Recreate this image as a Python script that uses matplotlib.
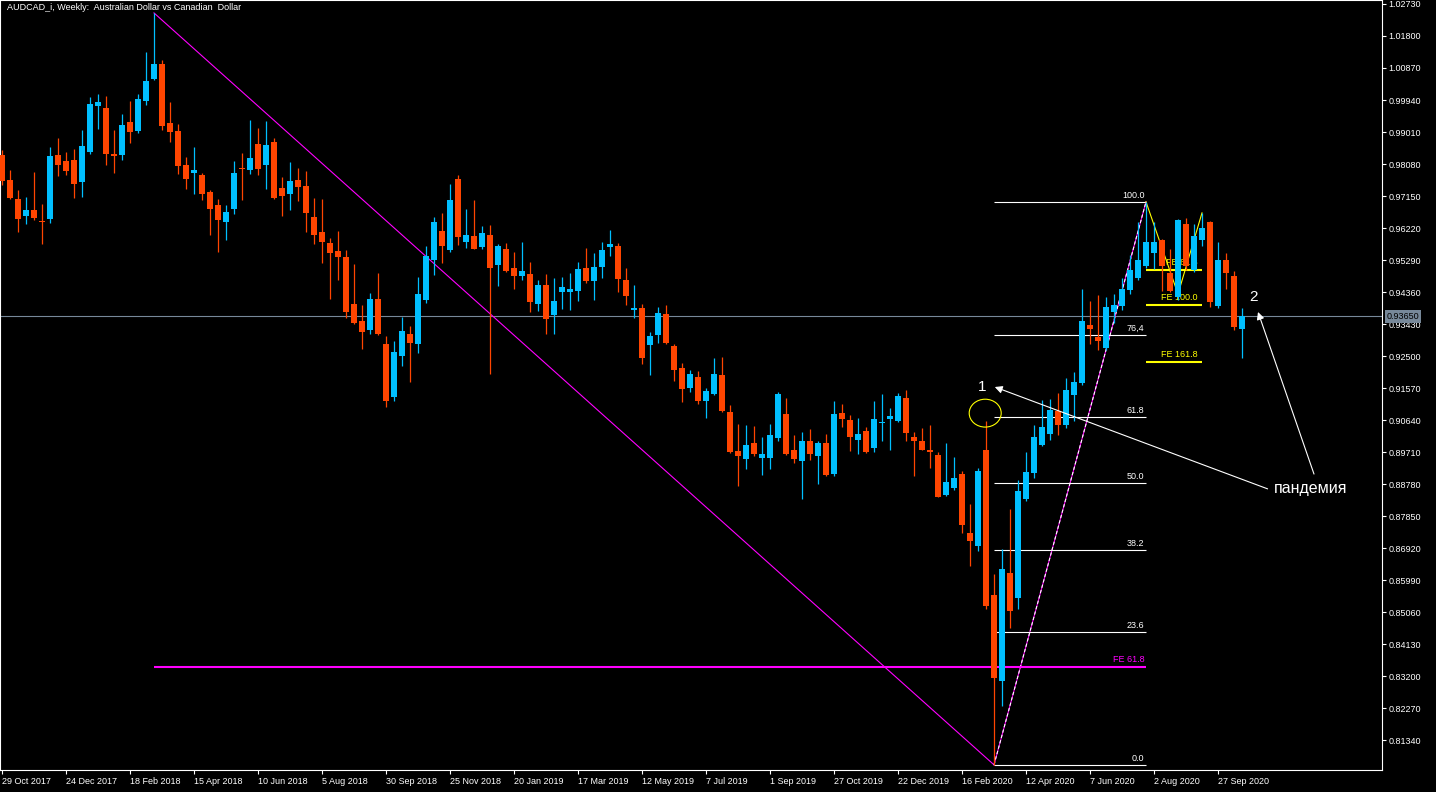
import matplotlib.pyplot as plt
import numpy as np
from matplotlib.patches import Ellipse
from matplotlib.transforms import blended_transform_factory

# AUDCAD_i weekly bars, bar 0 = week of 29 Oct 2017
opens = [
    0.9834, 0.9762, 0.9706, 0.9657, 0.9674, 0.9643, 0.9648, 0.9834, 0.9817, 0.9820,
    0.9756, 0.9843, 0.9977, 0.9971, 0.9836, 0.9834, 0.9930, 0.9904, 0.9991, 1.0055,
    1.0099, 0.9927, 0.9904, 0.9805, 0.9782, 0.9776, 0.9727, 0.9689, 0.9639, 0.9677,
    0.9796, 0.9791, 0.9866, 0.9805, 0.9872, 0.9738, 0.9721, 0.9762, 0.9744, 0.9654,
    0.9610, 0.9578, 0.9555, 0.9538, 0.9401, 0.9352, 0.9326, 0.9416, 0.9285, 0.9131,
    0.9250, 0.9314, 0.9285, 0.9413, 0.9529, 0.9613, 0.9558, 0.9764, 0.9581, 0.9599,
    0.9567, 0.9602, 0.9515, 0.9561, 0.9506, 0.9483, 0.9488, 0.9401, 0.9456, 0.9369,
    0.9436, 0.9436, 0.9439, 0.9506, 0.9468, 0.9509, 0.9567, 0.9570, 0.9471, 0.9384,
    0.9390, 0.9282, 0.9311, 0.9372, 0.9279, 0.9215, 0.9157, 0.9189, 0.9119, 0.9140,
    0.9195, 0.9087, 0.8974, 0.8951, 0.8997, 0.8954, 0.8954, 0.9012, 0.9082, 0.8977,
    0.8945, 0.9003, 0.8960, 0.8997, 0.8907, 0.9084, 0.9064, 0.9006, 0.9032, 0.8983,
    0.9054, 0.9067, 0.9061, 0.9128, 0.9015, 0.9003, 0.8977, 0.8962, 0.8846, 0.8867,
    0.8907, 0.8736, 0.8698, 0.8977, 0.8556, 0.8306, 0.8620, 0.8547, 0.8835, 0.8910,
    0.8991, 0.9023, 0.9090, 0.9050, 0.9137, 0.9172, 0.9340, 0.9305, 0.9273, 0.9378,
    0.9395, 0.9442, 0.9477, 0.9512, 0.9549, 0.9587, 0.9491, 0.9422, 0.9634, 0.9500,
    0.9587, 0.9639, 0.9395, 0.9529, 0.9483, 0.9329,
]
highs = [
    0.9849, 0.9791, 0.9733, 0.9712, 0.9785, 0.9692, 0.9857, 0.9884, 0.9843, 0.9852,
    0.9907, 1.0003, 1.0011, 1.0006, 0.9907, 0.9953, 0.9991, 1.0011, 1.0134, 1.0247,
    1.0110, 0.9988, 0.9924, 0.9828, 0.9857, 0.9782, 0.9733, 0.9706, 0.9689, 0.9817,
    0.9840, 0.9936, 0.9913, 0.9933, 0.9884, 0.9770, 0.9814, 0.9796, 0.9788, 0.9709,
    0.9706, 0.9593, 0.9613, 0.9558, 0.9517, 0.9398, 0.9433, 0.9491, 0.9308, 0.9294,
    0.9363, 0.9337, 0.9480, 0.9570, 0.9654, 0.9666, 0.9750, 0.9776, 0.9677, 0.9703,
    0.9628, 0.9631, 0.9576, 0.9578, 0.9552, 0.9581, 0.9523, 0.9471, 0.9488, 0.9477,
    0.9480, 0.9491, 0.9523, 0.9564, 0.9549, 0.9581, 0.9616, 0.9578, 0.9506, 0.9456,
    0.9401, 0.9320, 0.9393, 0.9398, 0.9285, 0.9230, 0.9209, 0.9207, 0.9157, 0.9244,
    0.9247, 0.9108, 0.9053, 0.9050, 0.9047, 0.9015, 0.9053, 0.9145, 0.9128, 0.9021,
    0.9029, 0.9038, 0.9003, 0.9023, 0.9119, 0.9111, 0.9079, 0.9070, 0.9044, 0.9119,
    0.9140, 0.9099, 0.9143, 0.9151, 0.9029, 0.9041, 0.9050, 0.8971, 0.8997, 0.8957,
    0.8916, 0.8820, 0.8925, 0.9061, 0.8617, 0.8689, 0.8805, 0.8890, 0.8971, 0.9050,
    0.9122, 0.9125, 0.9143, 0.9186, 0.9204, 0.9445, 0.9410, 0.9427, 0.9422, 0.9430,
    0.9477, 0.9544, 0.9639, 0.9698, 0.9639, 0.9590, 0.9561, 0.9648, 0.9651, 0.9634,
    0.9666, 0.9642, 0.9581, 0.9549, 0.9497, 0.9390,
]
lows = [
    0.9747, 0.9706, 0.9610, 0.9634, 0.9645, 0.9576, 0.9637, 0.9773, 0.9776, 0.9709,
    0.9712, 0.9837, 0.9910, 0.9805, 0.9782, 0.9820, 0.9869, 0.9898, 0.9980, 1.0052,
    0.9907, 0.9872, 0.9779, 0.9735, 0.9721, 0.9703, 0.9602, 0.9552, 0.9587, 0.9663,
    0.9703, 0.9779, 0.9776, 0.9735, 0.9706, 0.9657, 0.9674, 0.9700, 0.9610, 0.9576,
    0.9520, 0.9416, 0.9471, 0.9361, 0.9343, 0.9270, 0.9314, 0.9311, 0.9102, 0.9119,
    0.9221, 0.9175, 0.9259, 0.9404, 0.9485, 0.9520, 0.9552, 0.9573, 0.9564, 0.9560,
    0.9561, 0.9198, 0.9454, 0.9494, 0.9445, 0.9471, 0.9378, 0.9381, 0.9314, 0.9314,
    0.9387, 0.9384, 0.9410, 0.9462, 0.9413, 0.9477, 0.9541, 0.9436, 0.9398, 0.9361,
    0.9227, 0.9195, 0.9288, 0.9285, 0.9177, 0.9116, 0.9145, 0.9111, 0.9070, 0.9137,
    0.9087, 0.8968, 0.8872, 0.8922, 0.8960, 0.8904, 0.8922, 0.9003, 0.8962, 0.8939,
    0.8835, 0.8948, 0.8878, 0.8901, 0.8901, 0.9044, 0.8974, 0.8965, 0.8968, 0.8971,
    0.9003, 0.8977, 0.9058, 0.9003, 0.8901, 0.8976, 0.8925, 0.8839, 0.8843, 0.8861,
    0.8736, 0.8640, 0.8683, 0.8515, 0.8062, 0.8233, 0.8460, 0.8515, 0.8829, 0.8896,
    0.8989, 0.9006, 0.9021, 0.9041, 0.9061, 0.9166, 0.9285, 0.9268, 0.9268, 0.9346,
    0.9384, 0.9430, 0.9471, 0.9506, 0.9503, 0.9439, 0.9437, 0.9413, 0.9500, 0.9494,
    0.9570, 0.9393, 0.9390, 0.9445, 0.9326, 0.9244,
]
closes = [
    0.9759, 0.9709, 0.9648, 0.9674, 0.9651, 0.9640, 0.9831, 0.9805, 0.9788, 0.9750,
    0.9860, 0.9982, 0.9988, 0.9837, 0.9831, 0.9921, 0.9901, 0.9997, 1.0049, 1.0099,
    0.9918, 0.9901, 0.9802, 0.9764, 0.9791, 0.9721, 0.9677, 0.9645, 0.9669, 0.9782,
    0.9794, 0.9826, 0.9794, 0.9863, 0.9709, 0.9715, 0.9759, 0.9741, 0.9666, 0.9602,
    0.9581, 0.9549, 0.9538, 0.9378, 0.9346, 0.9320, 0.9416, 0.9314, 0.9119, 0.9262,
    0.9323, 0.9288, 0.9430, 0.9541, 0.9639, 0.9570, 0.9703, 0.9596, 0.9602, 0.9561,
    0.9608, 0.9506, 0.9570, 0.9497, 0.9483, 0.9497, 0.9407, 0.9456, 0.9358, 0.9410,
    0.9451, 0.9445, 0.9503, 0.9468, 0.9509, 0.9558, 0.9576, 0.9474, 0.9424, 0.9390,
    0.9244, 0.9308, 0.9375, 0.9288, 0.9209, 0.9154, 0.9198, 0.9119, 0.9148, 0.9198,
    0.9090, 0.8971, 0.8960, 0.8991, 0.8965, 0.8965, 0.9021, 0.9140, 0.8965, 0.8951,
    0.9003, 0.8965, 0.8997, 0.8904, 0.9082, 0.9067, 0.9015, 0.9023, 0.8971, 0.9067,
    0.9057, 0.9076, 0.9134, 0.9026, 0.9003, 0.8977, 0.8971, 0.8840, 0.8884, 0.8896,
    0.8759, 0.8712, 0.8916, 0.8524, 0.8314, 0.8631, 0.8509, 0.8858, 0.8913, 0.9015,
    0.9044, 0.9093, 0.9050, 0.9151, 0.9175, 0.9352, 0.9329, 0.9294, 0.9393, 0.9398,
    0.9445, 0.9500, 0.9529, 0.9581, 0.9581, 0.9512, 0.9439, 0.9645, 0.9512, 0.9599,
    0.9622, 0.9407, 0.9529, 0.9491, 0.9334, 0.9365,
]

date_labels = ['29 Oct 2017', '24 Dec 2017', '18 Feb 2018', '15 Apr 2018', '10 Jun 2018',
               '5 Aug 2018', '30 Sep 2018', '25 Nov 2018', '20 Jan 2019', '17 Mar 2019',
               '12 May 2019', '7 Jul 2019', '1 Sep 2019', '27 Oct 2019', '22 Dec 2019',
               '16 Feb 2020', '12 Apr 2020', '7 Jun 2020', '2 Aug 2020', '27 Sep 2020']
price_ticks = [1.0273, 1.0180, 1.0087, 0.9994, 0.9901, 0.9808, 0.9715, 0.9622,
               0.9529, 0.9436, 0.9343, 0.9250, 0.9157, 0.9064, 0.8971, 0.8878,
               0.8785, 0.8692, 0.8599, 0.8506, 0.8413, 0.8320, 0.8227, 0.8134]

fib_levels = [0.0, 23.6, 38.2, 50.0, 61.8, 76.4, 100.0]
fib_texts = ['0.0', '23.6', '38.2', '50.0', '61.8', '76,4', '100.0']
fe_levels = [61.8, 100.0, 161.8]
fe_texts = ['FE 61.8', 'FE 100.0', 'FE 161.8']
# yellow expansion points (bar, price)
fe_a = (143, 0.9698)
fe_b = (147, 0.9430)
fe_c = (150, 0.9666)

BULL = '#00bfff'
BEAR = '#ff4500'
FONT = 'Liberation Sans'

plt.rcParams['font.family'] = [FONT, 'DejaVu Sans']

fig = plt.figure(figsize=(14.36, 7.92), dpi=100, facecolor='black')
ax = fig.add_axes([0, 22 / 792, 1382 / 1436, 770 / 792])
ax.set_facecolor('black')

o = np.array(opens)
h = np.array(highs)
l = np.array(lows)
c = np.array(closes)
x = np.arange(len(o))
cols = np.where(c >= o, BULL, BEAR)

ax.vlines(x, l, h, colors=cols, linewidth=0.9, zorder=5)
body_lo = np.minimum(o, c)
body_h = np.maximum(np.abs(c - o), 0.0003)
ax.bar(x, body_h, bottom=body_lo, width=0.66, color=cols, linewidth=0, zorder=6)

# current price line
ax.axhline(c[-1], color='#778899', lw=0.8, zorder=1)

# big trendline from the 2018 top to the 2020 low
ax.plot([19, 124], [h[19], l[124]], color='#ff00ff', lw=0.8, zorder=2)

# fibo retracement low -> high
fib_lo, fib_hi = l[124], h[143]
ax.plot([124, 143], [fib_lo, fib_hi], color='#ff00ff', lw=0.8, zorder=2)
ax.plot([124, 143], [fib_lo, fib_hi], color='white', lw=0.8, ls=(0, (3, 2)), zorder=2)
for lv, txt in zip(fib_levels, fib_texts):
    p = fib_lo + (fib_hi - fib_lo) * lv / 100
    ax.hlines(p, 124, 143, color='white', lw=0.8, zorder=2)
    ax.text(142.8, p + 0.0006, txt, color='white', fontsize=6.5,
            ha='right', va='bottom', zorder=2)

# magenta expansion level
fe_mag = h[143] - (h[19] - l[124]) * 0.618
ax.hlines(fe_mag, 19, 143, color='#ff00ff', lw=1.5, zorder=2)
ax.text(142.8, fe_mag + 0.0007, 'FE 61.8', color='#ff00ff', fontsize=6.5,
        ha='right', va='bottom', zorder=2)

# yellow expansion
ax.plot([fe_a[0], fe_b[0], fe_c[0]], [fe_a[1], fe_b[1], fe_c[1]],
        color='yellow', lw=0.8, zorder=2)
for lv, txt in zip(fe_levels, fe_texts):
    p = fe_c[1] - (fe_a[1] - fe_b[1]) * lv / 100
    ax.hlines(p, 143, 150, color='yellow', lw=1.5, zorder=2)
    ax.text(149.5, p + 0.0008, txt, color='yellow', fontsize=6.5,
            ha='right', va='bottom', zorder=2)

# annotations
ax.add_patch(Ellipse((122.9, 0.9084), 4.0, 0.0081, fill=False,
                     edgecolor='yellow', lw=0.8, zorder=7))
ax.text(122.5, 0.9160, '1', color='white', fontsize=11, ha='center', va='center', zorder=8)
ax.text(156.5, 0.9422, '2', color='white', fontsize=11, ha='center', va='center', zorder=8)
ax.text(159.0, 0.8864, 'пандемия', color='white', fontsize=11.5,
        ha='left', va='center', zorder=8)
arrow = dict(arrowstyle='-|>', color='white', lw=0.8, mutation_scale=11,
             shrinkA=0, shrinkB=0)
ax.annotate('', xy=(124.1, 0.9160), xytext=(158.2, 0.8864), arrowprops=arrow, zorder=8)
ax.annotate('', xy=(157.0, 0.9378), xytext=(164.0, 0.8907), arrowprops=arrow, zorder=8)

ax.text(0.005, 0.996, 'AUDCAD_i, Weekly:  Australian Dollar vs Canadian  Dollar',
        transform=ax.transAxes, color='white', fontsize=6.5, ha='left', va='top')

# price box on the scale
tr = blended_transform_factory(ax.transAxes, ax.transData)
ax.text(1.0035, c[-1], '%.5f' % c[-1], transform=tr, color='black', fontsize=6.5,
        ha='left', va='center', clip_on=False, zorder=10,
        bbox=dict(facecolor='#778899', edgecolor='none', pad=1.2))

ax.set_xlim(-0.25, 172.5)
ax.set_ylim(0.8047, 1.02846)

ax.yaxis.tick_right()
ax.set_yticks(price_ticks)
ax.set_yticklabels(['%.5f' % v for v in price_ticks])
ax.set_xticks(np.arange(len(date_labels)) * 8)
ax.set_xticklabels(date_labels)
for lab in ax.get_xticklabels():
    lab.set_horizontalalignment('left')
ax.tick_params(axis='both', colors='white', labelsize=6.5, length=3, width=0.8, pad=1.5)
ax.tick_params(axis='x', pad=2)

for s in ax.spines.values():
    s.set_color('white')
    s.set_linewidth(0.8)

fig.savefig('out.png', dpi=100, facecolor='black')
